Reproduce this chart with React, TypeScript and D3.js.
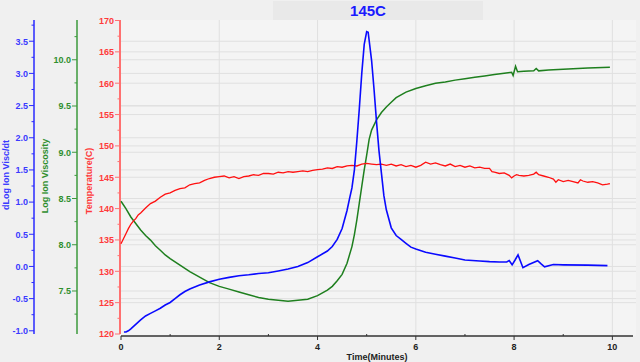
import React from "react";
import * as d3 from "d3";

const W = 640;
const H = 362;

const title = "145C";
const xTitle = "Time(Minutes)";
const tempTitle = "Temperature(C)";
const viscTitle = "Log Ion Viscosity";
const dlogTitle = "dLog Ion Visc/dt";

const timeTicks = [0, 2, 4, 6, 8, 10];
const timeMinor = [1, 3, 5, 7, 9];
const tempTicks = [120, 125, 130, 135, 140, 145, 150, 155, 160, 165, 170];
const viscTicks = [7.5, 8.0, 8.5, 9.0, 9.5, 10.0];
const dlogTicks = [-1.0, -0.5, 0.0, 0.5, 1.0, 1.5, 2.0, 2.5, 3.0, 3.5];

// Temperature (red)
const tempT = [0, 0.05, 0.1, 0.15, 0.2, 0.25, 0.3, 0.35, 0.4, 0.5, 0.6, 0.7, 0.8, 0.9, 1.0, 1.1, 1.2, 1.3, 1.4, 1.5, 1.6, 1.7, 1.8, 1.9, 2.0, 2.1, 2.2, 2.3, 2.4, 2.5, 2.6, 2.7, 2.8, 2.9, 3.0, 3.1, 3.2, 3.3, 3.4, 3.5, 3.6, 3.7, 3.8, 3.9, 4.0, 4.1, 4.2, 4.3, 4.4, 4.5, 4.6, 4.7, 4.8, 4.9, 5.0, 5.1, 5.2, 5.3, 5.4, 5.5, 5.6, 5.7, 5.8, 5.9, 6.0, 6.1, 6.2, 6.3, 6.4, 6.5, 6.6, 6.7, 6.8, 6.9, 7.0, 7.1, 7.2, 7.3, 7.4, 7.5, 7.55, 7.6, 7.7, 7.8, 7.9, 7.95, 8.0, 8.05, 8.1, 8.2, 8.3, 8.4, 8.45, 8.5, 8.6, 8.7, 8.8, 8.85, 8.9, 9.0, 9.1, 9.2, 9.3, 9.35, 9.4, 9.5, 9.6, 9.7, 9.8, 9.9, 9.95];
const tempV = [134.4, 135.2, 136.0, 136.8, 137.5, 138.0, 138.4, 139.0, 139.3, 140.1, 140.8, 141.2, 141.8, 142.3, 142.5, 142.9, 143.2, 143.3, 143.8, 144.0, 144.1, 144.5, 144.8, 145.0, 145.1, 145.2, 144.9, 145.1, 144.8, 145.1, 145.2, 145.4, 145.3, 145.6, 145.6, 145.5, 145.8, 145.7, 145.9, 145.8, 145.9, 146.0, 145.9, 146.1, 146.2, 146.3, 146.5, 146.4, 146.7, 146.6, 146.8, 146.9, 146.8, 147.1, 147.2, 147.1, 147.0, 147.1, 146.9, 147.1, 146.8, 147.0, 146.7, 146.9, 146.6, 146.9, 147.4, 147.1, 147.3, 147.0, 146.8, 147.1, 146.7, 146.9, 146.6, 146.8, 146.5, 146.6, 146.4, 146.4, 145.9, 145.8, 145.6, 145.7, 145.3, 144.9, 145.2, 145.4, 145.3, 145.2, 145.3, 145.5, 145.8, 145.4, 145.2, 145.0, 144.7, 144.2, 144.6, 144.3, 144.5, 144.3, 144.1, 144.6, 144.4, 144.2, 144.3, 144.1, 143.8, 143.9, 144.0];

// Log ion viscosity (green)
const viscT = [0, 0.1, 0.2, 0.3, 0.4, 0.5, 0.6, 0.7, 0.8, 0.9, 1.0, 1.2, 1.4, 1.6, 1.8, 2.0, 2.2, 2.4, 2.6, 2.8, 3.0, 3.2, 3.4, 3.6, 3.8, 4.0, 4.2, 4.3, 4.4, 4.5, 4.6, 4.7, 4.75, 4.8, 4.85, 4.9, 4.95, 5.0, 5.05, 5.1, 5.2, 5.3, 5.4, 5.5, 5.6, 5.8, 6.0, 6.2, 6.4, 6.6, 6.8, 7.0, 7.2, 7.4, 7.6, 7.8, 7.95, 7.98, 8.03, 8.07, 8.2, 8.4, 8.45, 8.5, 8.7, 9.0, 9.5, 9.95];
const viscV = [8.47, 8.39, 8.30, 8.23, 8.16, 8.10, 8.05, 7.99, 7.94, 7.89, 7.85, 7.78, 7.71, 7.65, 7.59, 7.55, 7.52, 7.49, 7.46, 7.43, 7.41, 7.40, 7.39, 7.40, 7.41, 7.45, 7.51, 7.55, 7.61, 7.68, 7.80, 7.98, 8.11, 8.27, 8.45, 8.63, 8.81, 8.97, 9.14, 9.24, 9.35, 9.43, 9.49, 9.54, 9.59, 9.65, 9.69, 9.72, 9.745, 9.76, 9.78, 9.795, 9.81, 9.825, 9.84, 9.855, 9.865, 9.83, 9.93, 9.87, 9.875, 9.88, 9.905, 9.88, 9.89, 9.898, 9.91, 9.918];

// dLog ion viscosity / dt (blue)
const dlogT = [0.06, 0.1, 0.15, 0.2, 0.3, 0.4, 0.5, 0.6, 0.7, 0.8, 0.9, 1.0, 1.1, 1.2, 1.3, 1.4, 1.5, 1.6, 1.8, 2.0, 2.2, 2.4, 2.6, 2.8, 3.0, 3.2, 3.4, 3.6, 3.8, 4.0, 4.2, 4.3, 4.4, 4.5, 4.6, 4.65, 4.7, 4.75, 4.8, 4.85, 4.9, 4.95, 5.0, 5.03, 5.06, 5.1, 5.15, 5.2, 5.25, 5.3, 5.35, 5.4, 5.5, 5.6, 5.7, 5.8, 5.9, 6.0, 6.2, 6.4, 6.6, 6.8, 7.0, 7.3, 7.5, 7.7, 7.85, 7.9, 7.96, 8.02, 8.08, 8.13, 8.18, 8.3, 8.48, 8.55, 8.62, 8.8, 9.0, 9.5, 9.9];
const dlogV = [-1.02, -1.02, -1.0, -0.97, -0.9, -0.83, -0.77, -0.73, -0.69, -0.65, -0.6, -0.56, -0.5, -0.44, -0.39, -0.35, -0.32, -0.29, -0.24, -0.2, -0.17, -0.145, -0.13, -0.11, -0.097, -0.07, -0.04, 0.0, 0.06, 0.15, 0.24, 0.31, 0.42, 0.59, 0.87, 1.05, 1.22, 1.5, 1.95, 2.45, 3.0, 3.45, 3.65, 3.64, 3.45, 3.2, 2.75, 2.25, 1.8, 1.45, 1.1, 0.88, 0.6, 0.48, 0.42, 0.36, 0.3, 0.27, 0.22, 0.19, 0.16, 0.13, 0.1, 0.085, 0.075, 0.07, 0.07, 0.09, 0.025, 0.1, 0.18, 0.08, -0.02, 0.03, 0.09, 0.04, -0.005, 0.03, 0.025, 0.02, 0.012];

const FONT = "'Liberation Sans', Arial, sans-serif";
const BLUE = "#0a0aff";
const BLUE_T = "#3a3aff";
const GREEN = "#1e7f1e";
const GREEN_T = "#2f8f2f";
const RED = "#ff1010";
const RED_T = "#ff3a3a";

export default function App() {
  const left = 121, right = 633, top = 20, bottom = 334, axisY = 336;
  const x = d3.scaleLinear().domain([0, 10.42]).range([left, right]);
  const yTemp = d3.scaleLinear().domain([120, 170]).range([bottom, 20.5]);
  const yVisc = d3.scaleLinear().domain([7.035, 10.43]).range([bottom, top]);
  const yDlog = d3.scaleLinear().domain([-1.05, 3.83]).range([bottom, top]);

  const mk = (ts: number[], vs: number[], y: d3.ScaleLinear<number, number>) =>
    d3.line<number>().x((_, i) => x(ts[i])).y((v) => y(v))(vs) || "";

  const tempMinor = d3.range(122.5, 170, 5);
  const viscMinor = d3.range(7.25, 10.4, 0.5);
  const dlogMinor = d3.range(-0.75, 3.8, 0.5);

  const yAxis = (
    ax: number,
    y: d3.ScaleLinear<number, number>,
    ticks: number[],
    minor: number[],
    lineColor: string,
    textColor: string,
    fmt: (v: number) => string,
    lw: number
  ) => (
    <g>
      <line x1={ax} x2={ax} y1={top} y2={bottom} stroke={lineColor} strokeWidth={lw} />
      {ticks.map((t) => (
        <g key={"M" + t}>
          <line x1={ax - 5} x2={ax} y1={y(t)} y2={y(t)} stroke={lineColor} strokeWidth={1} />
          <text x={ax - 6} y={y(t) + 3.3} textAnchor="end" fontSize={9} fontWeight="bold" fill={textColor} fontFamily={FONT}>
            {fmt(t)}
          </text>
        </g>
      ))}
      {minor.map((t) => (
        <line key={"m" + t} x1={ax - 2.5} x2={ax} y1={y(t)} y2={y(t)} stroke={lineColor} strokeWidth={1} />
      ))}
    </g>
  );

  const gridYs = [
    ...tempTicks.slice(1, -1).map((t) => yTemp(t)),
    ...viscTicks.map((t) => yVisc(t)),
    ...dlogTicks.slice(1).map((t) => yDlog(t)),
  ];

  return (
    <svg width={W} height={H} style={{ position: "fixed", left: 0, top: 0, background: "#f0f0f0" }}>
      <rect x={0} y={0} width={W} height={H} fill="#f0f0f0" />
      <rect x={273} y={1} width={210} height={19} fill="#e9e9e9" />
      <text x={368} y={15.5} textAnchor="middle" fontSize={15} fontWeight="bold" fill="#1a1aff" fontFamily={FONT}>
        {title}
      </text>
      <rect x={left} y={top} width={right - left + 3} height={axisY - top} fill="#f4f4f4" />
      {gridYs.map((gy, i) => (
        <line key={"gy" + i} x1={left} x2={right + 3} y1={gy} y2={gy} stroke="#e0e0e0" strokeWidth={1} />
      ))}
      {timeTicks.slice(1).map((t) => (
        <line key={"gx" + t} x1={x(t)} x2={x(t)} y1={top} y2={axisY} stroke="#e0e0e0" strokeWidth={1} />
      ))}

      {yAxis(34, yDlog, dlogTicks, dlogMinor, "#2a2aff", BLUE_T, (v) => v.toFixed(1), 1.5)}
      {yAxis(77, yVisc, viscTicks, viscMinor, "#3c9a3c", GREEN_T, (v) => v.toFixed(1), 1.5)}
      {yAxis(120, yTemp, tempTicks, tempMinor, "#ff7070", RED_T, (v) => String(v), 2)}

      <text transform={`translate(9,175) rotate(-90)`} textAnchor="middle" fontSize={9} fontWeight="bold" fill={BLUE_T} fontFamily={FONT}>
        {dlogTitle}
      </text>
      <text transform={`translate(48,176) rotate(-90)`} textAnchor="middle" fontSize={9} fontWeight="bold" fill={GREEN_T} fontFamily={FONT}>
        {viscTitle}
      </text>
      <text transform={`translate(92,181) rotate(-90)`} textAnchor="middle" fontSize={9} fontWeight="bold" fill={RED_T} fontFamily={FONT}>
        {tempTitle}
      </text>

      <line x1={left} x2={right} y1={axisY} y2={axisY} stroke="#333" strokeWidth={1.5} />
      {timeTicks.map((t) => (
        <g key={"xt" + t}>
          <line x1={x(t)} x2={x(t)} y1={axisY} y2={axisY + 4} stroke="#333" strokeWidth={1} />
          <text x={x(t)} y={350} textAnchor="middle" fontSize={9} fontWeight="bold" fill="#222" fontFamily={FONT}>
            {t}
          </text>
        </g>
      ))}
      {timeMinor.map((t) => (
        <line key={"xm" + t} x1={x(t)} x2={x(t)} y1={axisY - 2} y2={axisY} stroke="#333" strokeWidth={1} />
      ))}
      <text x={(left + right) / 2} y={360} textAnchor="middle" fontSize={9} fontWeight="bold" fill="#222" fontFamily={FONT}>
        {xTitle}
      </text>

      <path d={mk(viscT, viscV, yVisc)} fill="none" stroke={GREEN} strokeWidth={1.5} />
      <path d={mk(tempT, tempV, yTemp)} fill="none" stroke={RED} strokeWidth={1.3} />
      <path d={mk(dlogT, dlogV, yDlog)} fill="none" stroke={BLUE} strokeWidth={1.6} />
    </svg>
  );
}
